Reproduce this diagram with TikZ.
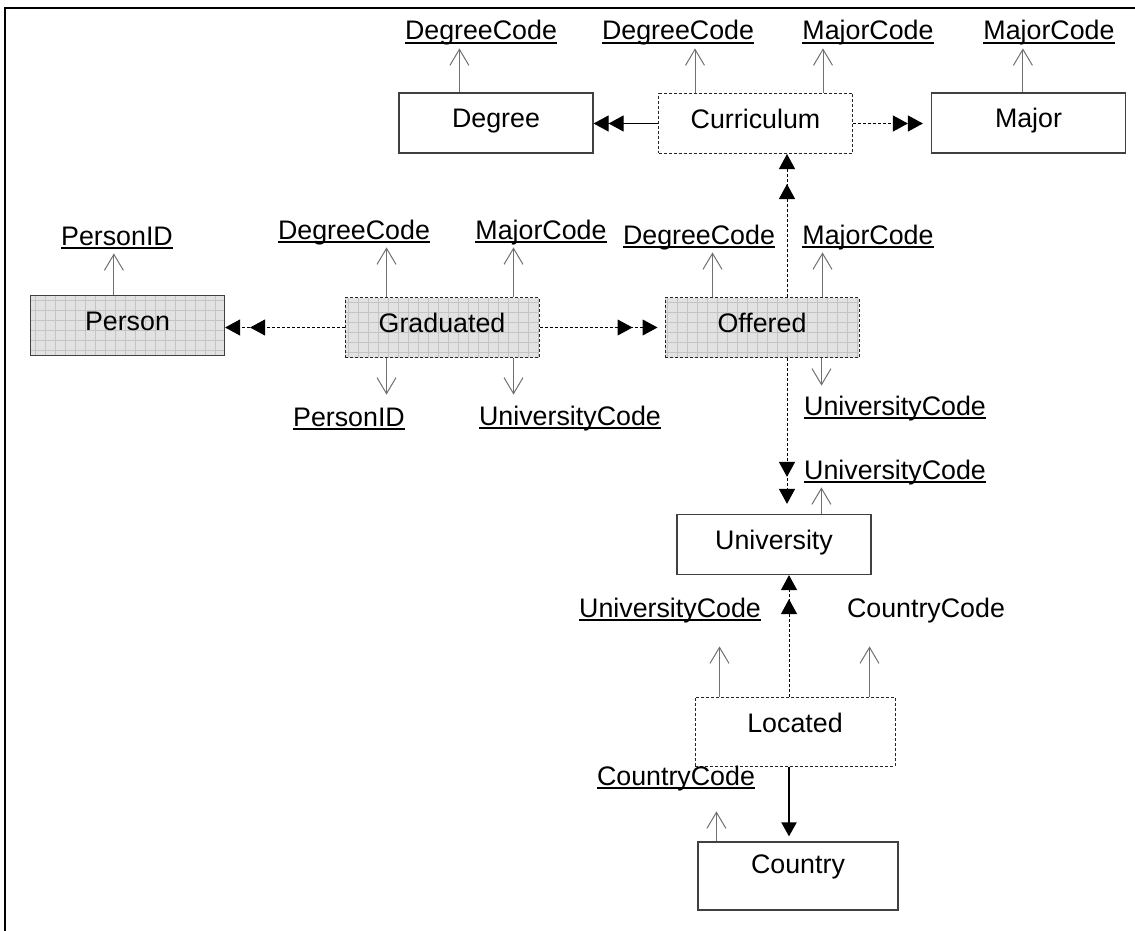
\documentclass[tikz,border=0pt]{standalone}
\usepackage{fontspec}
\setmainfont{Liberation Sans}
\usetikzlibrary{arrows.meta}

\definecolor{boxline}{HTML}{404040}
\definecolor{keyline}{HTML}{707070}
\definecolor{shadefill}{HTML}{E2E2E2}
\definecolor{gridline}{HTML}{C4C4C4}

% underlined key attribute
\newcommand{\ukey}[1]{\setbox0\hbox{#1}\rlap{\rule[-2pt]{\wd0}{1pt}}\box0}

\tikzstyle{styleentity} = [rectangle, minimum width=97pt, minimum height=30pt, inner sep=0pt, text centered, text height=9.5pt, text depth=5pt, draw=boxline, line width=0.6pt, font=\fontsize{13.4}{16}\selectfont]
\tikzstyle{stylerel} = [styleentity, draw=black!85, line width=0.5pt, dash pattern=on 1.5pt off 1pt]
\tikzstyle{styleshaded} = [fill=shadefill, path picture={\draw[solid, gridline, line width=0.4pt] (path picture bounding box.south west) grid[step=5pt] (path picture bounding box.north east);}]
\tikzstyle{stylekey} = [anchor=base, inner sep=1pt, text height=10pt, text depth=3pt, font=\fontsize{13.4}{16}\selectfont]
\tikzstyle{stylekeyline} = [draw=keyline, line width=0.5pt, -{Straight Barb[length=8pt,width=9.5pt]}]
\tikzstyle{styledash} = [line width=0.5pt, dash pattern=on 1.5pt off 1pt]
\tikzstyle{styletwotips} = [-{Triangle[length=7.5pt,width=8pt,sep=#1]Triangle[length=7.5pt,width=8pt]}]

\begin{document}
\begin{tikzpicture}[x=0.5pt, y=-0.5pt]
\useasboundingbox (0,0) rectangle (1135,931);
\draw[line width=1pt] (1135,8) -- (5,8) -- (5,931);

% boxes
\node (deg) [styleentity] at (496,123) {Degree};
\node (curr) [stylerel] at (755.5,123.5) {Curriculum};
\node (major) [styleentity] at (1028.5,123) {Major};
\node (person) [styleentity, styleshaded] at (127.5,325.5) {Person};
\node (grad) [stylerel, styleshaded] at (442,327.5) {Graduated};
\node (offer) [stylerel, styleshaded] at (762,327.5) {Offered};
\node (univ) [styleentity] at (774,544.5) {University};
\node (loc) [stylerel, minimum width=100pt, minimum height=34.5pt, text depth=9pt] at (795,731.5) {Located};
\node (country) [styleentity, minimum width=100pt, minimum height=34pt, text depth=12.5pt] at (798,876) {Country};

% key attributes
\node (dcA) [stylekey] at (481,40) {\ukey{DegreeCode}};
\node (dcB) [stylekey] at (678,40) {\ukey{DegreeCode}};
\node (mcA) [stylekey] at (868,40) {\ukey{MajorCode}};
\node (mcB) [stylekey] at (1049,40) {\ukey{MajorCode}};
\node (pidA) [stylekey] at (117,245) {\ukey{PersonID}};
\node (dcC) [stylekey] at (354,239) {\ukey{DegreeCode}};
\node (mcC) [stylekey] at (541,239) {\ukey{MajorCode}};
\node (dcD) [stylekey] at (699,244) {\ukey{DegreeCode}};
\node (mcD) [stylekey] at (868,244) {\ukey{MajorCode}};
\node (pidB) [stylekey] at (349,426) {\ukey{PersonID}};
\node (ucA) [stylekey] at (570,425) {\ukey{UniversityCode}};
\node (ucB) [stylekey] at (895,415) {\ukey{UniversityCode}};
\node (ucC) [stylekey] at (895,479) {\ukey{UniversityCode}};
\node (ucD) [stylekey] at (670,617) {\ukey{UniversityCode}};
\node (ccA) [stylekey] at (926,617) {CountryCode};
\node (ccB) [stylekey] at (676,785) {\ukey{CountryCode}};

% attribute lines
\draw[stylekeyline] ([xshift=30.5pt]deg.north west) -- ([xshift=30.5pt]deg.north west |- dcA.south);
\draw[stylekeyline] ([xshift=18.5pt]curr.north west) -- ([xshift=18.5pt]curr.north west |- dcB.south);
\draw[stylekeyline] ([xshift=82.5pt]curr.north west) -- ([xshift=82.5pt]curr.north west |- mcA.south);
\draw[stylekeyline] ([xshift=46pt]major.north west) -- ([xshift=46pt]major.north west |- mcB.south);
\draw[stylekeyline] ([xshift=42pt]person.north west) -- ([xshift=42pt]person.north west |- pidA.south);
\draw[stylekeyline] ([xshift=21pt]grad.north west) -- ([xshift=21pt]grad.north west |- dcC.south);
\draw[stylekeyline] ([xshift=84.5pt]grad.north west) -- ([xshift=84.5pt]grad.north west |- mcC.south);
\draw[stylekeyline] ([xshift=21pt]grad.south west) -- ([xshift=21pt,yshift=4.5pt]grad.south west |- pidB.north);
\draw[stylekeyline] ([xshift=84.5pt]grad.south west) -- ([xshift=84.5pt,yshift=4pt]grad.south west |- ucA.north);
\draw[stylekeyline] ([xshift=24pt]offer.north west) -- ([xshift=24pt]offer.north west |- dcD.south);
\draw[stylekeyline] ([xshift=79pt]offer.north west) -- ([xshift=79pt]offer.north west |- mcD.south);
\draw[stylekeyline] ([xshift=78.5pt]offer.south west) -- ([xshift=78.5pt,yshift=3.5pt]offer.south west |- ucB.north);
\draw[stylekeyline] ([xshift=72.5pt]univ.north west) -- ([xshift=72.5pt]univ.north west |- ucC.south);
\draw[stylekeyline] ([xshift=12.5pt]loc.north west) -- ([xshift=12.5pt,yshift=-10.5pt]loc.north west |- ucD.south);
\draw[stylekeyline] ([xshift=87.5pt]loc.north west) -- ([xshift=87.5pt,yshift=-10.5pt]loc.north west |- ccA.south);
\draw[stylekeyline] ([xshift=9.5pt]country.north west) -- ([xshift=9.5pt,yshift=-9pt]country.north west |- ccB.south);

% relationships
\draw[line width=0.6pt, styletwotips=0pt] (curr.west) -- (curr.west -| deg.east);
\draw[styledash, styletwotips=0pt, shorten >=4pt] (curr.east) -- (curr.east -| major.west);
\draw[styledash, styletwotips=7.5pt] ([xshift=12.5pt]offer.north) -- ([xshift=12.5pt]offer.north |- curr.south);
\draw[styledash, styletwotips=5pt] (grad.west) -- (grad.west -| person.east);
\draw[styledash, styletwotips=5pt, shorten >=3.5pt] (grad.east) -- (offer.west);
\draw[styledash, styletwotips=6pt, shorten >=5pt] ([xshift=12.5pt]offer.south) -- ([xshift=12.5pt]offer.south |- univ.north);
\draw[styledash, styletwotips=4.5pt] ([xshift=-3pt]loc.north) -- ([xshift=-3pt]loc.north |- univ.south);
\draw[line width=1pt, -{Triangle[length=7pt,width=7.5pt]}, shorten >=2.5pt] ([xshift=-3pt]loc.south) -- ([xshift=-3pt]loc.south |- country.north);

\end{tikzpicture}
\end{document}
